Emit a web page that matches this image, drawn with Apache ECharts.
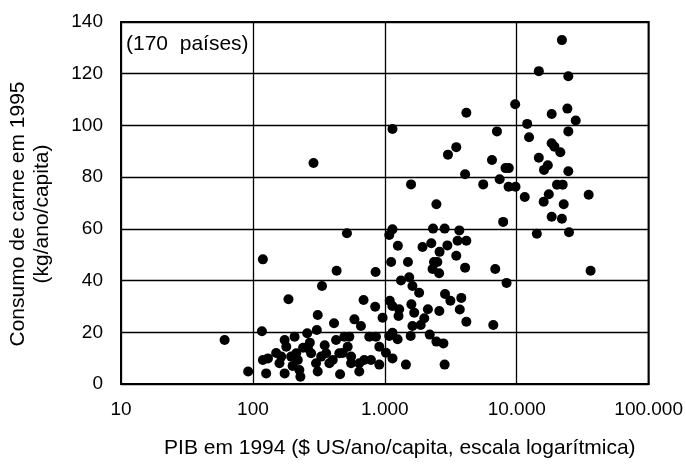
<!DOCTYPE html>
<html><head><meta charset="utf-8">
<script src="https://cdn.jsdelivr.net/npm/echarts@6/dist/echarts.min.js"></script>
<style>html,body{margin:0;padding:0;background:#fff}#c{width:686px;height:469px}</style>
</head><body><div id="c"></div>
<script>
// PIB per capita 1994 (US$), consumo de carne 1995 (kg/ano/capita)
const gdp = [
 22000,14700,24600,9730,4150,24200,18400,28000,1143,12000,7080,24600,12400,3480,3010,18400,19300,21400,14700,6490,
 8220,8710,17200,16100,24600,4060,1580,5570,7420,8670,9790,20200,22300,35100,11500,17500,16000,2460,22700,288,
 18400,22000,14200,24900,7890,36300,1143,1080,2320,2840,3670,1256,1930,2250,2980,3560,4150,2600,3480,1116,
 1497,2360,2500,2300,2580,4060,6870,8370,1325,1530,1620,1820,2860,3140,3800,1090,1140,1285,1270,1590,
 1670,2120,2590,3700,962,1990,1870,1620,4150,6640,1143,1080,1250,1570,2190,2460,2780,1020,1143,1445,
 2840,516,119,431,851,334,186,690,845,310,588,659,412,117,61,92,
 174,207,179,258,305,119,130,126,159,174,195,213,225,229,261,276,301,310,329,359,
 380,427,452,403,493,538,523,555,458,640,640,785,762,857,908,164,219,698,555,908,
 240,350,200,270,480,150
];
const meat = [
 133,121,119,108.2,104.9,106.5,104.4,101.9,98.6,100.6,97.7,97.7,95.4,91.6,88.7,93.1,91.8,89.6,87.5,86.6,
 83.5,83.5,84.6,82.8,82.3,81.1,77.2,77.2,79.2,76.3,76.3,77.1,77.1,73.2,72.3,73.4,70.5,69.5,69.5,85.5,
 64.7,63.9,58.1,58.7,62.7,43.8,59.8,57.6,60.1,60.1,59.4,53.5,53,54.4,53.6,55.4,55.4,51.1,49.6,47.2,
 47.2,47.2,47.2,44.5,42.8,45,44.5,39.1,40,41.3,37.9,35.3,34.8,32.2,33.3,32.2,30.2,28.9,26.3,30.8,
 27.6,28.9,28.2,28.8,25.6,25.4,22.8,22.4,24.1,22.8,19.8,18.6,17.3,18.6,19.1,16.4,15.7,12.1,9.9,7.5,
 7.5,58.3,48.2,43.8,43.3,37.9,32.8,32.5,29.9,26.7,25,22.4,23.5,20.4,17,4.8,
 17,18.3,14.4,19.6,20.9,9.3,9.9,4.1,8,4.1,10.6,11.9,5.4,2.8,13.8,11.9,8,4.8,10.6,11.9,
 8,17,11.9,9.3,18.3,18.3,14.4,10.6,3.8,8,4.8,9.3,18.3,18.3,14.4,10.6,9.3,9.3,8,7.5,
 14,15,7,16,12,12
];
const xTicks = [10,100,1000,10000,100000];
const yTicks = [0,20,40,60,80,100,120,140];
const yTitle = ['Consumo de carne em 1995', '(kg/ano/capita)'];

const pts = gdp.map((g,i)=>[g,meat[i]]);
const fmt = v => String(Math.round(v)).replace(/\B(?=(\d{3})+(?!\d))/g,'.');
const FONT = 'Liberation Sans, Arial, sans-serif';
const chart = echarts.init(document.getElementById('c'));
chart.setOption({
  animation:false,
  backgroundColor:'#fff',
  title:{text:'(170  países)',left:126,top:34,padding:0,textStyle:{fontFamily:FONT,fontSize:21,fontWeight:'normal',color:'#000'}},
  graphic:yTitle.map((t,i)=>({type:'text',x:18+i*24,y:214,rotation:Math.PI/2,silent:true,
    style:{text:t,font:'21px '+FONT,fill:'#000',textAlign:'center',textVerticalAlign:'middle'}})),
  grid:{left:121,right:36,top:22,bottom:85,show:true,borderColor:'#000',borderWidth:2,backgroundColor:'transparent'},
  xAxis:{type:'log',logBase:10,min:xTicks[0],max:xTicks[xTicks.length-1],
    name:'PIB em 1994 ($ US/ano/capita, escala logarítmica)',nameLocation:'middle',nameGap:54,
    nameTextStyle:{fontFamily:FONT,fontSize:21,color:'#000',padding:[0,0,0,30]},
    axisLine:{show:true,lineStyle:{color:'#000',width:2}},axisTick:{show:false},
    axisLabel:{fontFamily:FONT,fontSize:19,color:'#000',margin:16,formatter:fmt},
    splitLine:{show:true,lineStyle:{color:'#000',width:1.3}},minorTick:{show:false}},
  yAxis:{type:'value',min:yTicks[0],max:yTicks[yTicks.length-1],interval:20,
    axisLine:{show:true,lineStyle:{color:'#000',width:2}},axisTick:{show:false},
    axisLabel:{fontFamily:FONT,fontSize:19,color:'#000',margin:18},
    splitLine:{show:true,lineStyle:{color:'#000',width:1.3}}},
  series:[{type:'scatter',data:pts,symbol:'circle',symbolSize:10,itemStyle:{color:'#000',opacity:1},silent:true}]
});
</script></body></html>
